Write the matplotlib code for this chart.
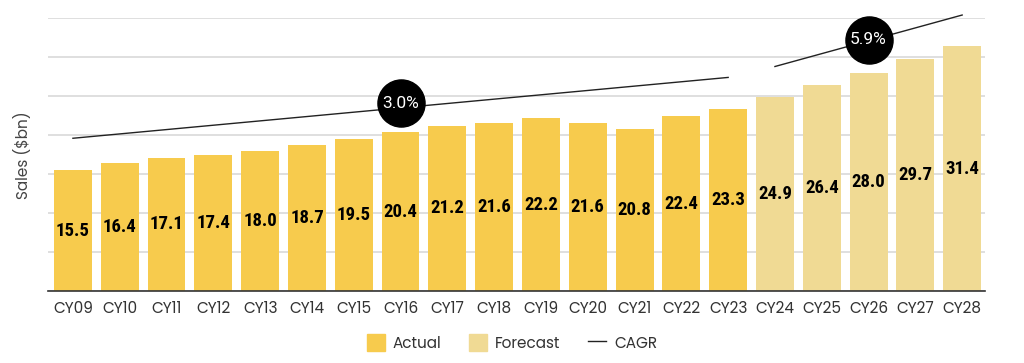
import matplotlib
matplotlib.use("Agg")
import matplotlib.pyplot as plt
from matplotlib.patches import Patch
from matplotlib.lines import Line2D

years = ["CY09", "CY10", "CY11", "CY12", "CY13", "CY14", "CY15", "CY16", "CY17", "CY18",
         "CY19", "CY20", "CY21", "CY22", "CY23", "CY24", "CY25", "CY26", "CY27", "CY28"]
sales = [15.5, 16.4, 17.1, 17.4, 18.0, 18.7, 19.5, 20.4, 21.2, 21.6,
         22.2, 21.6, 20.8, 22.4, 23.3, 24.9, 26.4, 28.0, 29.7, 31.4]
n_actual = 15

# CAGR trend lines (start index, end index, start value, end value)
cagr_actual = ([0, 14], [19.6, 27.4])
cagr_forecast = ([15, 19], [28.8, 35.4])
cagr_labels = ["3.0%", "5.9%"]
cagr_label_pos = [(7, 24.1), (17, 32.2)]

c_actual = "#F7CB4D"
c_forecast = "#F0DA94"

plt.rcParams["font.family"] = ["Poppins", "Raleway", "Lato", "DejaVu Sans"]
plt.rcParams["font.weight"] = 400

fig = plt.figure(figsize=(10.24, 3.63), dpi=100)
ax = fig.add_axes([0.047, 0.198, 0.915, 0.752])

x = list(range(len(years)))
colors = [c_actual if i < n_actual else c_forecast for i in x]
ax.bar(x, sales, width=0.81, color=colors, zorder=2)

for i, v in zip(x, sales):
    ax.text(i, v / 2, f"{v:.1f}", ha="center", va="center", fontsize=13.5,
            fontweight="bold", family=["Roboto Condensed", "DejaVu Sans"], zorder=3)

ax.plot(cagr_actual[0], cagr_actual[1], color="#222222", lw=1, zorder=4, clip_on=False)
ax.plot(cagr_forecast[0], cagr_forecast[1], color="#222222", lw=1, zorder=4, clip_on=False)

for lab, (px, py) in zip(cagr_labels, cagr_label_pos):
    ax.scatter([px], [py], s=1150, color="black", zorder=5, clip_on=False)
    ax.text(px, py, lab, color="white", ha="center", va="center", fontsize=12.5,
            family=["Roboto", "DejaVu Sans"], zorder=6)

ax.set_xlim(-0.53, 19.49)
ax.set_ylim(0, 35)
ax.set_yticks(range(0, 36, 5))
ax.set_yticklabels([])
ax.tick_params(axis="y", length=0)
ax.tick_params(axis="x", length=0, pad=7, labelsize=11, labelcolor="#333333")
ax.set_xticks(x)
ax.set_xticklabels(years)
ax.grid(axis="y", color="#d9d9d9", lw=1.2, zorder=0)
for s in ["top", "right", "left"]:
    ax.spines[s].set_visible(False)
ax.spines["bottom"].set_color("#333333")
ax.spines["bottom"].set_linewidth(1.2)
ax.spines["bottom"].set_zorder(3)
ax.set_ylabel("Sales ($bn)", fontsize=11, color="#444444", labelpad=8)

handles = [Patch(color=c_actual, label="Actual"),
           Patch(color=c_forecast, label="Forecast"),
           Line2D([0], [0], color="#222222", lw=1, label="CAGR")]
fig.legend(handles=handles, loc="center", bbox_to_anchor=(0.5, 0.055), ncol=3,
           frameon=False, fontsize=11, handlelength=1.2, handleheight=1.3,
           handletextpad=0.5, columnspacing=1.8, labelcolor="#333333")

fig.savefig("out.png", dpi=100)
